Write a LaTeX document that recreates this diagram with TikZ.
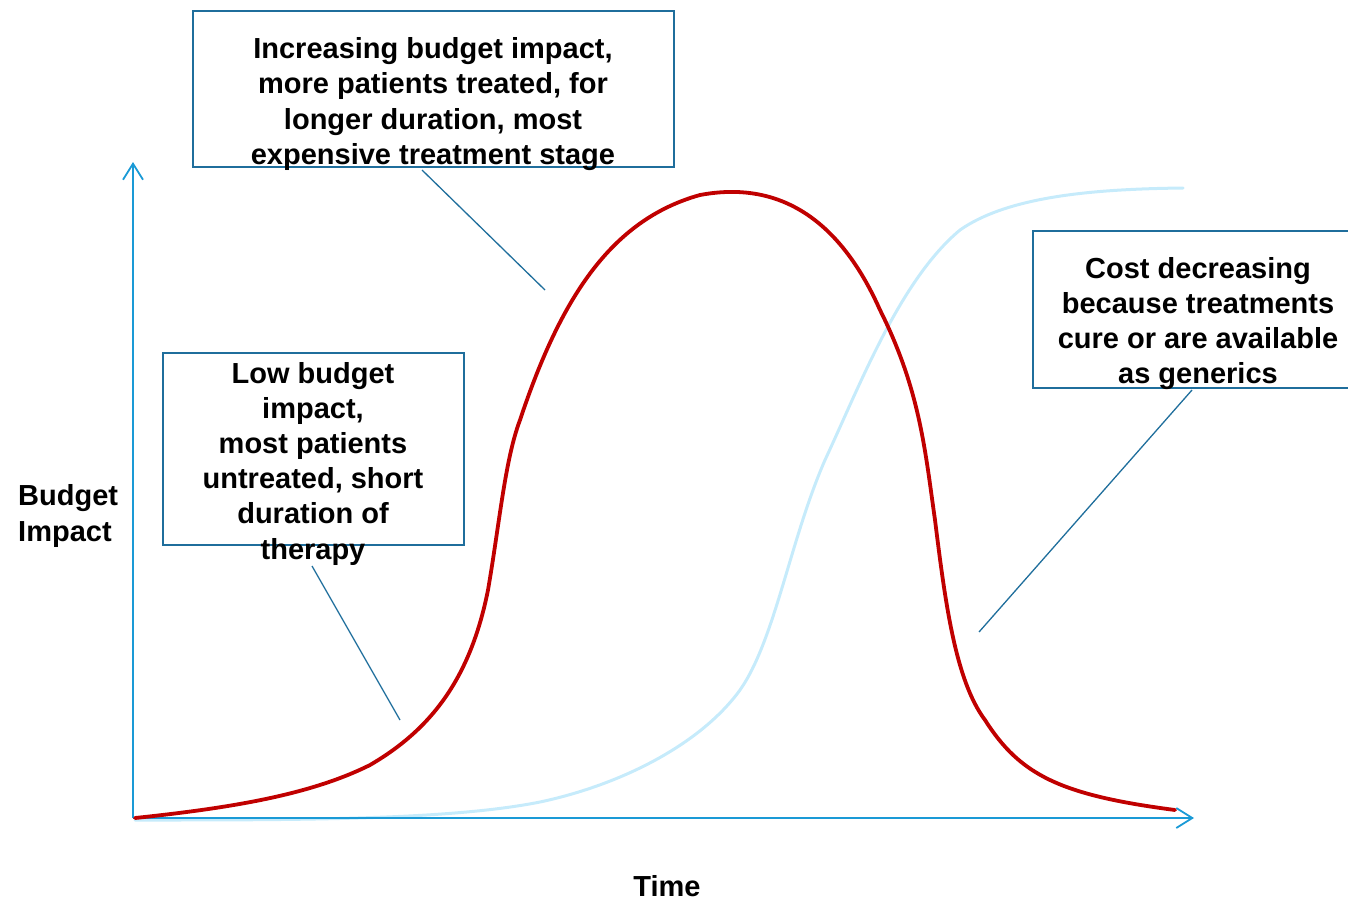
\documentclass[tikz,border=0pt]{standalone}
\usepackage{fontspec}
\setmainfont{Liberation Sans}
\usetikzlibrary{arrows.meta}
\definecolor{axisblue}{HTML}{1A9AD6}
\definecolor{boxblue}{HTML}{1F6E9C}
\definecolor{curvered}{HTML}{C00000}
\definecolor{lightcurve}{HTML}{C6EBFB}
\tikzset{
  box/.style={draw=boxblue, line width=1.3pt, inner sep=0pt},
  txt/.style={font=\fontsize{29}{35.2}\selectfont\bfseries, align=center, inner sep=0pt},
  lbl/.style={font=\fontsize{29}{35.2}\selectfont\bfseries, inner sep=0pt},
  leader/.style={draw=boxblue, line width=1.3pt},
  axis/.style={draw=axisblue, line width=1.8pt, -{Straight Barb[length=16pt,width=20pt,line width=1.8pt]}},
}
\begin{document}
\begin{tikzpicture}[x=1pt,y=-1pt]
\useasboundingbox (0,0) rectangle (1348,900);
\begin{scope}
\clip (0,0) rectangle (1348,900);
% axes
\coordinate (o) at (133,818);
\coordinate (ytop) at (133,162);
\coordinate (xend) at (1194,818);
\draw[axis] (o) -- (ytop);
% light blue curve
\draw[lightcurve, line width=3pt, line cap=round]
  (135,820) .. controls (300,820) and (450,820) .. (540,802)
  .. controls (620,785) and (700,745) .. (740,690)
  .. controls (775,640) and (790,540) .. (825,460)
  .. controls (860,385) and (900,280) .. (960,230)
  .. controls (1010,195) and (1100,189) .. (1183,188);
\draw[axis] (o) -- (xend);
% red curve
\draw[curvered, line width=3.8pt, line cap=round]
  (135,818) .. controls (230,808) and (310,795) .. (370,765)
  .. controls (430,730) and (470,680) .. (488,590)
  .. controls (500,520) and (505,460) .. (520,420)
  .. controls (560,300) and (610,220) .. (700,195)
  .. controls (780,180) and (840,220) .. (880,310)
  .. controls (920,390) and (925,450) .. (935,520)
  .. controls (945,600) and (955,680) .. (985,720)
  .. controls (1020,775) and (1060,795) .. (1175,810);
% boxes
\node[box, minimum width=481pt, minimum height=156pt] (b1) at (433.5,89) {};
\node[box, minimum width=301pt, minimum height=192pt] (b2) at (313.5,449) {};
\node[box, minimum width=340pt, minimum height=157pt] (b3) at (1203,309.5) {};
\end{scope}
\node[txt] (t1) at (433,104) {Increasing budget impact,\\more patients treated, for\\longer duration, most\\expensive treatment stage};
\node[txt] (t2) at (313,463.5) {Low budget\\impact,\\most patients\\untreated, short\\duration of\\therapy};
\node[txt] (t3) at (1198,323.5) {Cost decreasing\\because treatments\\cure or are available\\as generics};
% leaders
\coordinate (l1a) at (422,170);
\coordinate (l1b) at (545,290);
\coordinate (l2a) at (312,566);
\coordinate (l2b) at (400,720);
\coordinate (l3a) at (1192,390);
\coordinate (l3b) at (979,632);
\draw[leader] (l1a) -- (l1b);
\draw[leader] (l2a) -- (l2b);
\draw[leader] (l3a) -- (l3b);
% axis labels
\node[lbl, align=left, anchor=west] (ylab) at (18,516) {Budget\\Impact};
\node[lbl] (xlab) at (667,886) {Time};
\end{tikzpicture}
\end{document}
